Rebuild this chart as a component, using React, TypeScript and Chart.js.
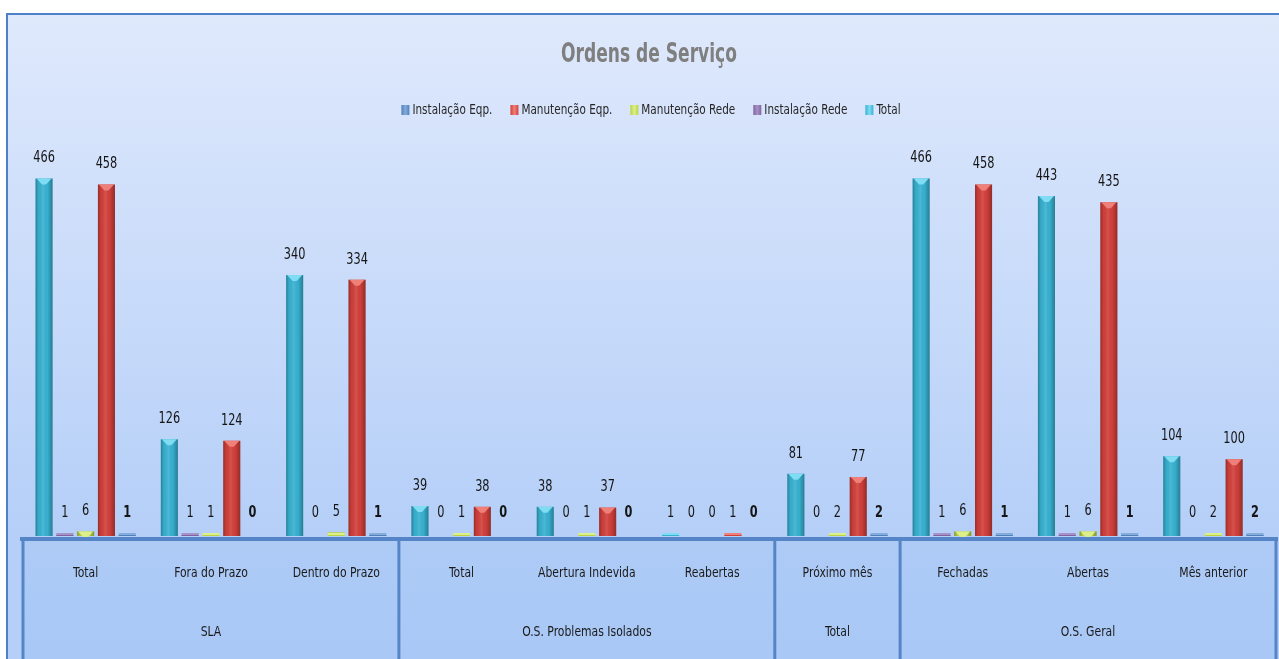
import React, { useEffect, useRef } from "react";
import { Chart, registerables } from "chart.js";

Chart.register(...registerables);

const FONT = "'Liberation Sans Narrow', 'DejaVu Sans Condensed', 'Liberation Sans', sans-serif";

const categories = [
  "Total",
  "Fora do Prazo",
  "Dentro do Prazo",
  "Total",
  "Abertura Indevida",
  "Reabertas",
  "Próximo mês",
  "Fechadas",
  "Abertas",
  "Mês anterior",
];
const groupLabels = ["SLA", "O.S. Problemas Isolados", "Total", "O.S. Geral"];
const groupSizes = [3, 3, 1, 3];

const totalValues = [466, 126, 340, 39, 38, 1, 81, 466, 443, 104];
const instalacaoRede = [1, 1, 0, 0, 0, 0, 0, 1, 1, 0];
const manutencaoRede = [6, 1, 5, 1, 1, 0, 2, 6, 6, 2];
const manutencaoEqp = [458, 124, 334, 38, 37, 1, 77, 458, 435, 100];
const instalacaoEqp = [1, 0, 1, 0, 0, 0, 2, 1, 1, 2];

const chartTitle = "Ordens de Serviço";
const seriesNames = ["Total", "Instalação Rede", "Manutenção Rede", "Manutenção Eqp.", "Instalação Eqp."];
const seriesColors = ["#38b2d2", "#8064a2", "#b9d444", "#d2403b", "#4f81bd"];
const seriesLight = ["#7fdcf3", "#a891c4", "#dcef8a", "#ef7f79", "#86abd9"];

function drawText(ctx: any, text: string, x: number, y: number, font: string, sx: number, align: string = "center") {
  ctx.save();
  ctx.font = font;
  ctx.translate(x, y);
  ctx.scale(sx, 1);
  ctx.textAlign = align;
  ctx.textBaseline = "middle";
  ctx.fillText(text, 0, 0);
  ctx.restore();
}

const framePlugin = {
  id: "framePlugin",
  beforeDraw(chart: any) {
    const { ctx, width, height, chartArea } = chart;
    ctx.save();
    ctx.fillStyle = "#ffffff";
    ctx.fillRect(0, 0, width, height);
    const g = ctx.createLinearGradient(0, 14, 0, chartArea.bottom);
    g.addColorStop(0, "#dfe9fc");
    g.addColorStop(1, "#b5cff8");
    ctx.fillStyle = g;
    ctx.fillRect(7, 14, width - 7, height - 14);
    ctx.strokeStyle = "#4d80c8";
    ctx.lineWidth = 2;
    ctx.beginPath();
    ctx.moveTo(7, height);
    ctx.lineTo(7, 14);
    ctx.lineTo(width, 14);
    ctx.stroke();

    // title
    ctx.fillStyle = "#7f7f7f";
    drawText(ctx, chartTitle, 649, 55, `bold 26px ${FONT}`, 0.73);

    // legend (reverse series order)
    const order = [4, 3, 2, 1, 0];
    const lf = `14px ${FONT}`;
    const sx = 0.83;
    ctx.font = lf;
    const widths = order.map((i) => ctx.measureText(seriesNames[i]).width * sx);
    const boxW = 8;
    const gapBoxText = 3;
    const gapItems = 18;
    const total = widths.reduce((a, w) => a + boxW + gapBoxText + w, 0) + gapItems * (order.length - 1);
    let lx = 651 - total / 2;
    const ly = 110;
    order.forEach((si, k) => {
      const bg = ctx.createLinearGradient(lx, 0, lx + boxW, 0);
      bg.addColorStop(0, seriesColors[si]);
      bg.addColorStop(0.5, seriesLight[si]);
      bg.addColorStop(1, seriesColors[si]);
      ctx.fillStyle = bg;
      ctx.fillRect(lx, ly - 5, boxW, 10);
      ctx.fillStyle = "#262626";
      drawText(ctx, seriesNames[si], lx + boxW + gapBoxText, ly, lf, sx, "left");
      lx += boxW + gapBoxText + widths[k] + gapItems;
    });
    ctx.restore();
  },
};

const barStylePlugin = {
  id: "barStylePlugin",
  afterDatasetsDraw(chart: any) {
    const { ctx } = chart;
    ctx.save();
    chart.data.datasets.forEach((ds: any, di: number) => {
      const meta = chart.getDatasetMeta(di);
      meta.data.forEach((el: any, j: number) => {
        const { x, y, base, width } = el.getProps(["x", "y", "base", "width"], true);
        const v = ds.data[j];
        const left = x - width / 2;
        if (v > 0) {
          const h = base - y;
          if (h >= 4) {
            const g = ctx.createLinearGradient(left, 0, left + width, 0);
            g.addColorStop(0, "rgba(0,0,0,0.28)");
            g.addColorStop(0.18, "rgba(0,0,0,0.04)");
            g.addColorStop(0.45, "rgba(255,255,255,0.10)");
            g.addColorStop(0.7, "rgba(0,0,0,0.02)");
            g.addColorStop(1, "rgba(0,0,0,0.30)");
            ctx.fillStyle = g;
            ctx.fillRect(left, y, width, h);
            ctx.fillStyle = seriesLight[di];
            ctx.beginPath();
            ctx.moveTo(left + 1, y);
            ctx.lineTo(left + width - 1, y);
            ctx.lineTo(x + 2, y + 6);
            ctx.lineTo(x - 2, y + 6);
            ctx.closePath();
            ctx.fill();
          } else {
            ctx.fillStyle = seriesLight[di];
            ctx.fillRect(left, base - 3, width, 3);
            ctx.fillStyle = seriesColors[di];
            ctx.fillRect(left, base - 1, width, 1);
          }
        }
        ctx.fillStyle = "#151515";
        const top = Math.min(y, base - 3);
        drawText(ctx, String(v), x, top - 20, `${di === 4 ? "bold " : ""}15px ${FONT}`, 0.84);
      });
    });
    ctx.restore();
  },
};

const axisBoxPlugin = {
  id: "axisBoxPlugin",
  afterDraw(chart: any) {
    const { ctx, chartArea, height } = chart;
    const xs = chart.scales.x;
    const left = chartArea.left - 1;
    const right = chartArea.right;
    const top = chartArea.bottom + 1;
    ctx.save();
    const g = ctx.createLinearGradient(0, top, 0, height);
    g.addColorStop(0, "#aecbf6");
    g.addColorStop(1, "#a9c8f6");
    ctx.fillStyle = g;
    ctx.fillRect(left, top, right - left, height - top);
    ctx.strokeStyle = "#5585c6";
    ctx.lineWidth = 4;
    ctx.beginPath();
    ctx.moveTo(left - 2, top + 2);
    ctx.lineTo(right + 2, top + 2);
    ctx.stroke();
    const catW = (chartArea.right - chartArea.left) / categories.length;
    const bounds: number[] = [chartArea.left];
    let acc = 0;
    groupSizes.forEach((s) => {
      acc += s;
      bounds.push(chartArea.left + acc * catW);
    });
    ctx.lineWidth = 3;
    bounds.forEach((bx) => {
      ctx.beginPath();
      ctx.moveTo(bx, top + 2);
      ctx.lineTo(bx, height);
      ctx.stroke();
    });
    ctx.fillStyle = "#1a1a1a";
    const f = `14px ${FONT}`;
    categories.forEach((c, i) => {
      drawText(ctx, c, xs.getPixelForValue(i), 573, f, 0.86);
    });
    groupLabels.forEach((gl, i) => {
      drawText(ctx, gl, (bounds[i] + bounds[i + 1]) / 2, 632, f, 0.86);
    });
    ctx.restore();
  },
};

export default function App() {
  const ref = useRef<HTMLCanvasElement | null>(null);
  useEffect(() => {
    if (!ref.current) return;
    const seriesData = [totalValues, instalacaoRede, manutencaoRede, manutencaoEqp, instalacaoEqp];
    const chart = new Chart(ref.current, {
      type: "bar",
      data: {
        labels: categories,
        datasets: seriesData.map((d, i) => ({
          label: seriesNames[i],
          data: d,
          backgroundColor: seriesColors[i],
          borderWidth: 0,
          categoryPercentage: 0.83,
          barPercentage: 0.82,
        })),
      },
      options: {
        responsive: false,
        animation: false,
        layout: { padding: { left: 23, right: 3, top: 127, bottom: 123 } },
        scales: {
          x: { display: false, grid: { display: false } },
          y: { display: false, min: 0, max: 533, grid: { display: false } },
        },
        plugins: {
          title: { display: false },
          legend: { display: false },
          tooltip: { enabled: false },
        },
      },
      plugins: [framePlugin, barStylePlugin, axisBoxPlugin],
    });
    return () => chart.destroy();
  }, []);
  return (
    <div style={{ position: "fixed", left: 0, top: 0, width: 1279, height: 659 }}>
      <canvas ref={ref} width={1279} height={659} style={{ display: "block" }} />
    </div>
  );
}
